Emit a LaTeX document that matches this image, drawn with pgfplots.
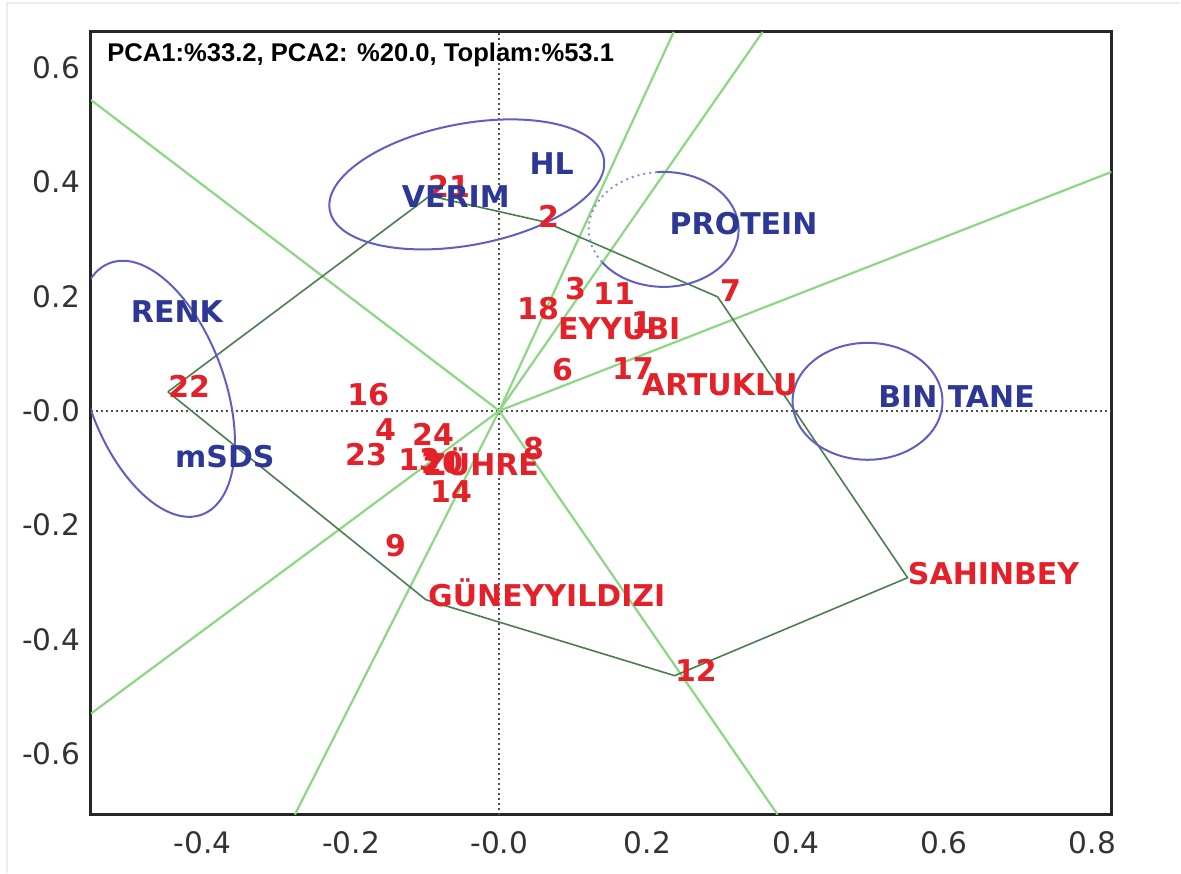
\documentclass[border=0pt]{standalone}
\usepackage{fontspec}
\setmainfont{DejaVu Sans}
\newfontfamily\arialfont{Liberation Sans}
\usepackage{pgfplots}
\pgfplotsset{compat=1.18}

\definecolor{gred}{RGB}{228,32,40}
\definecolor{tblue}{RGB}{45,55,150}
\definecolor{eblue}{RGB}{95,95,195}
\definecolor{raygreen}{RGB}{140,215,130}
\definecolor{hullgreen}{RGB}{75,125,80}

\newcommand{\lblfont}{\fontsize{15}{17}\selectfont\bfseries}

\begin{document}
\begin{tikzpicture}
% faint outer frame of the original image (top and left)
\draw[gray!15, line width=0.6pt] (-42pt,-29pt) -- (-42pt,406pt) -- (545pt,406pt);
\path (-45.5pt,-29pt) rectangle (545pt,407.5pt);

\begin{axis}[
  scale only axis,
  width=510.5pt, height=391.5pt,
  xmin=-0.5508, xmax=0.8258, ymin=-0.7063, ymax=0.6626,
  xtick={-0.4,-0.2,0,0.2,0.4,0.6,0.8},
  xticklabels={-0.4,-0.2,-0.0,0.2,0.4,0.6,0.8},
  ytick={-0.6,-0.4,-0.2,0,0.2,0.4,0.6},
  yticklabels={-0.6,-0.4,-0.2,-0.0,0.2,0.4,0.6},
  major tick length=0pt,
  tick label style={font=\fontsize{14.8}{16}\selectfont, text=black!80},
  xticklabel style={yshift=-5pt},
  yticklabel style={xshift=-2pt},
  axis line style={line width=1.5pt, black!85},
  clip=true,
  labelpts/.style={only marks, mark=text, text mark={},
    point meta=explicit symbolic,
    nodes near coords={\lblfont\pgfplotspointmeta}},
]
% zero reference lines
\addplot[black!70, line width=0.8pt, dash pattern=on 1pt off 1.5pt] coordinates {(0,-0.7063) (0,0.6626)};
\addplot[black!70, line width=0.8pt, dash pattern=on 1pt off 1.5pt] coordinates {(-0.5508,0) (0.8258,0)};

% rays from the origin
\addplot[raygreen, line width=1.1pt] coordinates {(0,0) (-0.5508,0.5437)};
\addplot[raygreen, line width=1.1pt] coordinates {(0,0) (0.2353,0.6626)};
\addplot[raygreen, line width=1.1pt] coordinates {(0,0) (0.3553,0.6626)};
\addplot[raygreen, line width=1.1pt] coordinates {(0,0) (0.8258,0.4178)};
\addplot[raygreen, line width=1.1pt] coordinates {(0,0) (0.3755,-0.7063)};
\addplot[raygreen, line width=1.1pt] coordinates {(0,0) (-0.2757,-0.7063)};
\addplot[raygreen, line width=1.1pt] coordinates {(0,0) (-0.5508,-0.5297)};

% polygon of vertex genotypes
\addplot[hullgreen, line width=0.8pt] coordinates {
  (-0.4470,0.0332) (-0.0937,0.3759) (0.0613,0.3304) (0.2946,0.1993)
  (0.5508,-0.2920) (0.2366,-0.4633) (-0.0991,-0.3304) (-0.4470,0.0332)
};

% trait groups
\draw[eblue, line width=1pt] (axis cs:-0.0438,0.396) ellipse [x radius=69.75pt, y radius=30.35pt, rotate=10.7];
\draw[eblue, line width=1pt] (axis cs:-0.4631,0.0385) ellipse [x radius=67pt, y radius=34.25pt, rotate=110];
\draw[eblue, line width=1pt] (axis cs:0.4968,0.0166) ellipse [x radius=37.5pt, y radius=29.25pt];
\draw[eblue, line width=1pt] (axis cs:0.2218,0.3173) ++(-145:37.5pt and 28.75pt)
  arc[start angle=-145, end angle=95, x radius=37.5pt, y radius=28.75pt];
\draw[eblue!70, line width=1pt, dash pattern=on 1pt off 2pt] (axis cs:0.2218,0.3173) ++(95:37.5pt and 28.75pt)
  arc[start angle=95, end angle=215, x radius=37.5pt, y radius=28.75pt];

% genotypes
\addplot[labelpts,
  every node near coord/.append style={anchor=west, inner sep=0pt, text=gred,
    text height=0.73em, text depth=0pt}]
coordinates {
  (-0.4470,0.0367) [22]
  (-0.0964,0.3864) [21]
  (0.0519,0.3339) [2]
  (0.2973,0.2045) [7]
  (0.5508,-0.2902) [SAHINBEY]
  (0.2366,-0.4615) [12]
  (-0.0964,-0.3304) [GÜNEYYILDIZI]
  (0.0236,0.1731) [18]
  (0.0883,0.2080) [3]
  (0.1261,0.1993) [11]
  (0.0789,0.1381) [EYYUBI]
  (0.1773,0.1486) [1]
  (0.0708,0.0664) [6]
  (0.1517,0.0682) [17]
  (0.1921,0.0402) [ARTUKLU]
  (-0.2056,0.0227) [16]
  (-0.1679,-0.0385) [4]
  (-0.1180,-0.0472) [24]
  (-0.2083,-0.0822) [23]
  (-0.1368,-0.0909) [13]
  (-0.1058,-0.0962) [20]
  (-0.1018,-0.0997) [ZÜHRE]
  (0.0317,-0.0717) [8]
  (-0.0937,-0.1469) [14]
  (-0.1544,-0.2413) [9]
};

% traits
\addplot[labelpts,
  every node near coord/.append style={anchor=center, inner sep=0pt, text=tblue,
    text height=0.73em, text depth=0pt}]
coordinates {
  (-0.0587,0.369) [VERIM]
  (0.0708,0.4266) [HL]
  (0.3296,0.3217) [PROTEIN]
  (-0.4348,0.1678) [RENK]
  (-0.3701,-0.0857) [mSDS]
  (0.6168,0.0192) [BIN TANE]
};

\node[anchor=west, inner sep=0pt, font=\arialfont\bfseries\fontsize{12.8}{14}\selectfont]
  at (axis description cs:0.0157,0.9706) {PCA1:\%33.2, PCA2: \%20.0, Toplam:\%53.1};
\end{axis}
\end{tikzpicture}
\end{document}
